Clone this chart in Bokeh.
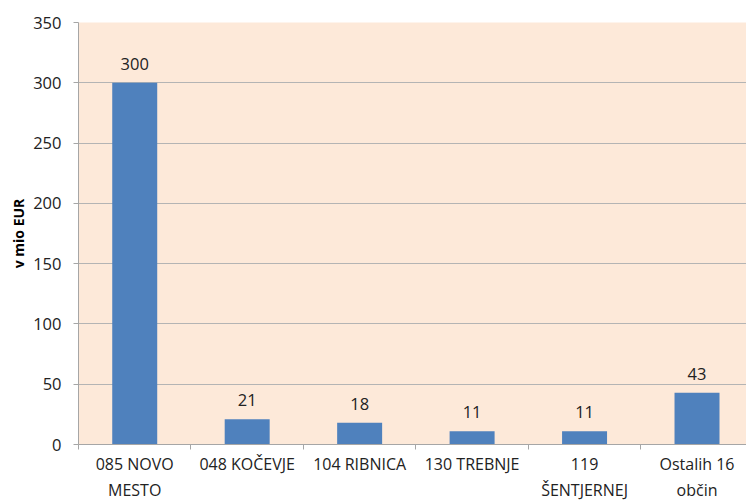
from bokeh.plotting import figure
from bokeh.models import ColumnDataSource, FixedTicker, Range1d
from bokeh.core.properties import value
from bokeh.embed import file_html
from bokeh.resources import INLINE

categories = ["085 NOVO\nMESTO", "048 KOČEVJE", "104 RIBNICA", "130 TREBNJE", "119\nŠENTJERNEJ", "Ostalih 16\nobčin"]
values = [300, 21, 18, 11, 11, 43]
y_ticks = [0, 50, 100, 150, 200, 250, 300, 350]

xs = [i + 0.5 for i in range(len(categories))]
src = ColumnDataSource(dict(x=xs, top=values, label=[str(v) for v in values]))

p = figure(width=746, height=503, output_backend="svg", toolbar_location=None,
           x_range=Range1d(0, 5.94), y_range=Range1d(0, 350),
           min_border_left=78, min_border_right=0, min_border_top=22, min_border_bottom=40)
p.background_fill_color = "#FDE9D9"
p.border_fill_color = "white"
p.outline_line_color = None

p.vbar(x="x", top="top", width=0.4, bottom=0, source=src, fill_color="#4F81BD", line_color=None)
p.text(x="x", y="top", text="label", source=src, text_align="center", text_baseline="bottom",
       y_offset=-13, text_font=value("Open Sans"), text_font_size="16.5px", text_color="#222222")

p.xgrid.grid_line_color = None
p.ygrid.grid_line_color = "#B4B4B4"
p.ygrid.grid_line_width = 1
p.ygrid.ticker = FixedTicker(ticks=y_ticks)

p.yaxis.ticker = FixedTicker(ticks=y_ticks, minor_ticks=[])
p.yaxis.axis_line_color = "#A6A6A6"
p.yaxis.major_tick_line_color = "#A6A6A6"
p.yaxis.major_tick_out = 5
p.yaxis.major_tick_in = 0
p.yaxis.minor_tick_line_color = None
p.yaxis.major_label_text_font = "Open Sans"
p.yaxis.major_label_text_font_size = "16.5px"
p.yaxis.major_label_text_color = "#222222"
p.yaxis.major_label_standoff = 12
p.yaxis.axis_label = "v mio EUR"
p.yaxis.axis_label_text_font = "Open Sans"
p.yaxis.axis_label_text_font_style = "bold"
p.yaxis.axis_label_text_font_size = "14px"
p.yaxis.axis_label_text_color = "#000000"
p.yaxis.axis_label_standoff = 2

p.xaxis.ticker = FixedTicker(ticks=xs, minor_ticks=list(range(len(categories) + 1)))
p.xaxis.major_label_overrides = {x: c for x, c in zip(xs, categories)}
p.xaxis.axis_line_color = "#A6A6A6"
p.xaxis.major_tick_line_color = None
p.xaxis.major_tick_out = 5
p.xaxis.major_tick_in = 0
p.xaxis.minor_tick_line_color = "#A6A6A6"
p.xaxis.minor_tick_out = 5
p.xaxis.minor_tick_in = 0
p.xaxis.major_label_text_font = "Open Sans"
p.xaxis.major_label_text_font_size = "16px"
p.xaxis.major_label_text_color = "#222222"
p.xaxis.major_label_standoff = 3

open("out.html", "w").write(file_html(p, INLINE))
